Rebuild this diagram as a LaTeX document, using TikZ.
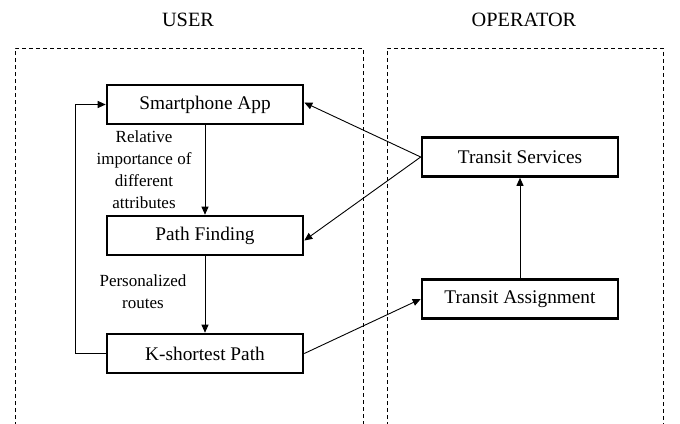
\documentclass[tikz,border=0pt]{standalone}
\usepackage{fontspec}
\setmainfont{Liberation Serif}
\usetikzlibrary{arrows.meta}
\tikzset{
  blk/.style={draw, line width=2.6pt, minimum width=196pt, minimum height=39pt, inner sep=0pt, font=\fontsize{19.3}{22}\selectfont},
  lbl/.style={align=center, font=\fontsize{17}{22}\selectfont, inner sep=0pt},
  ttl/.style={font=\fontsize{20.3}{24}\selectfont, inner sep=0pt},
  con/.style={line width=0.9pt, -{Triangle[length=8pt,width=7pt]}},
  lane/.style={dashed, line width=0.8pt, dash pattern=on 4pt off 3pt}
}
\begin{document}
\begin{tikzpicture}[x=1pt,y=-1pt]
\useasboundingbox (0,0) rectangle (680,423);
\draw[lane] (15,426) -- (15,48) -- (363,48) -- (363,426);
\draw[lane] (387,426) -- (387,48) -- (663,48) -- (663,426);
\node[ttl] (tu) at (188,20) {USER};
\node[ttl] (to) at (524,20) {OPERATOR};
\node[blk] (app) at (205,104.5) {Smartphone App};
\node[blk] (pf) at (205,235.5) {Path Finding};
\node[blk] (ks) at (205,353.5) {K-shortest Path};
\node[blk] (ts) at (520,157) {Transit Services};
\node[blk] (ta) at (520,299) {Transit Assignment};
\node[lbl] (l1) at (144,170) {Relative\\importance of\\different\\attributes};
\node[lbl] (l2) at (143,292) {Personalized\\routes};
\coordinate (fb1) at (75,353.5);
\coordinate (fb2) at (75,104.5);
\draw[con] (app.south) -- (pf.north);
\draw[con] (pf.south) -- (ks.north);
\draw[con] (ks.west) -- (fb1) -- (fb2) -- (app.west);
\draw[con] (ts.west) -- ([yshift=2pt]app.east);
\draw[con] (ts.west) -- ([yshift=-5pt]pf.east);
\draw[con] (ks.east) -- (ta.west);
\draw[con] (ta.north) -- (ts.south);
\end{tikzpicture}
\end{document}
